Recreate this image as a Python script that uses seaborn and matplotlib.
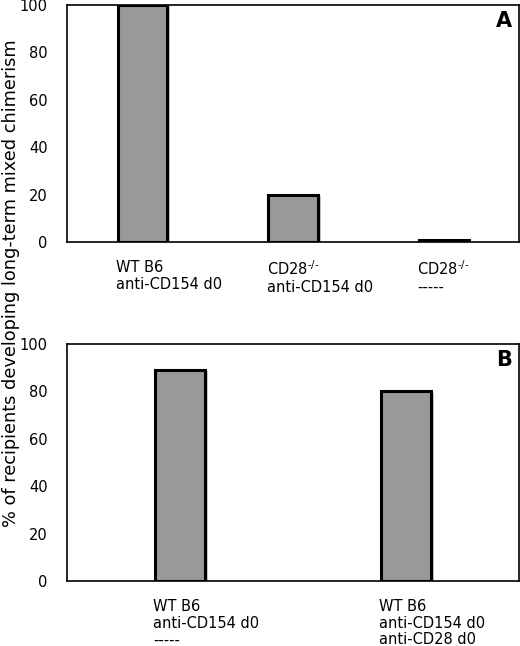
import matplotlib
matplotlib.use("Agg")
import matplotlib.pyplot as plt
import matplotlib.patheffects as pe
import seaborn as sns
import pandas as pd

# Panel A data
groups_a = ["WT B6\nanti-CD154 d0", "CD28$^{\\text{-/-}}$\nanti-CD154 d0", "CD28$^{\\text{-/-}}$\n-----"]
values_a = [100, 20, 1]

# Panel B data
groups_b = ["WT B6\nanti-CD154 d0\n-----", "WT B6\nanti-CD154 d0\nanti-CD28 d0"]
values_b = [89, 80]

yticks = [0, 20, 40, 60, 80, 100]

sns.set_style("white")
plt.rcParams["font.family"] = ["DejaVu Sans"]
plt.rcParams["mathtext.default"] = "regular"
plt.rcParams["text.color"] = "black"
plt.rcParams["ytick.color"] = "black"
plt.rcParams["ytick.labelcolor"] = "black"

fig = plt.figure(figsize=(5.2, 6.46), dpi=100)
ax_a = fig.add_axes([0.129, 0.6254, 0.869, 0.3669])
ax_b = fig.add_axes([0.129, 0.1006, 0.869, 0.3669])


def draw_panel(ax, groups, values, width, letter):
    df = pd.DataFrame({"group": groups, "value": values})
    sns.barplot(data=df, x="group", y="value", order=groups, width=width,
                color="#999999", edgecolor="black", linewidth=2.2,
                saturation=1, ax=ax)
    for bar in ax.patches:
        bar.set_path_effects([pe.SimplePatchShadow(offset=(2, -1), shadow_rgbFace="#c8c8c8", alpha=1),
                              pe.Normal()])
    ax.set_ylim(0, 100)
    ax.set_xlim(-0.5, len(groups) - 0.5)
    ax.set_yticks(yticks)
    ax.tick_params(axis="y", length=0, labelsize=10.5, pad=14, labelcolor="black")
    ax.set_xticks([])
    ax.set_xlabel("")
    ax.set_ylabel("")
    for s in ax.spines.values():
        s.set_visible(True)
        s.set_color("black")
        s.set_linewidth(1.2)
    trans = ax.get_xaxis_transform()
    for i, label in enumerate(groups):
        ax.text(i - width / 2 - 0.01, -0.075, label, transform=trans,
                ha="left", va="top", fontsize=10.5, linespacing=1.15, color="black")
    ax.text(0.985, 0.975, letter, transform=ax.transAxes, ha="right", va="top",
            fontsize=15, fontweight="bold", color="black")


draw_panel(ax_a, groups_a, values_a, 0.33, "A")
draw_panel(ax_b, groups_b, values_b, 0.22, "B")

fig.text(0.022, 1 - 283 / 646, "% of recipients developing long-term mixed chimerism",
         rotation=90, ha="center", va="center", fontsize=12.8, color="black")

fig.savefig("out.png", dpi=100)
